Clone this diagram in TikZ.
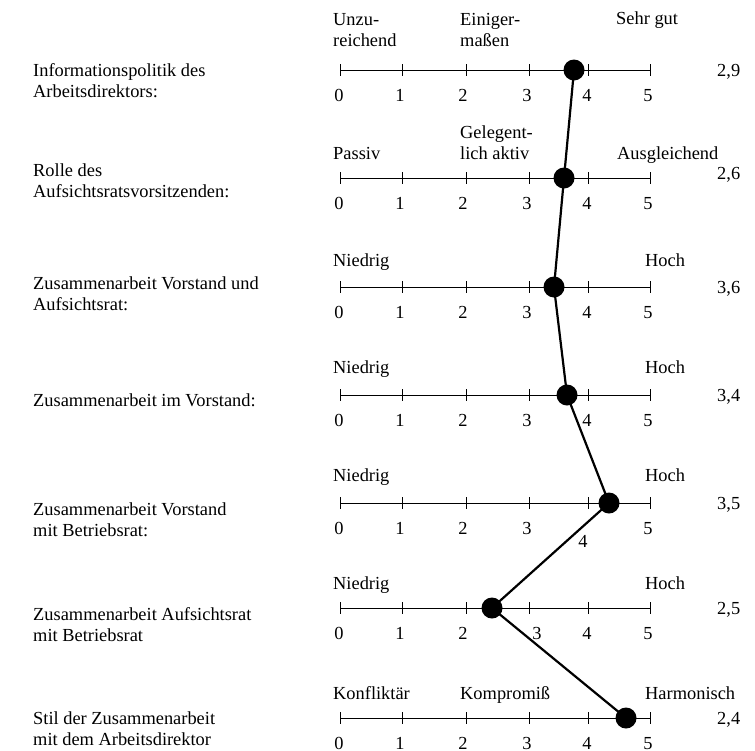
\documentclass[tikz,border=0pt]{standalone}
\usepackage{fontspec}
\setmainfont{Liberation Serif}
\begin{document}
\begin{tikzpicture}[x=1pt,y=-1pt,
  txt/.style={inner sep=0pt, font=\fontsize{18.4}{21}\selectfont},
  lbl/.style={txt, anchor=base west, align=left},
  num/.style={txt, anchor=base},
  axis/.style={line width=0.8pt},
  dot/.style={circle, fill=black, minimum size=21pt, inner sep=0pt},
  link/.style={line width=2.2pt, line join=round}]
\useasboundingbox (0,0) rectangle (755,750);

% rating scales: axis line, ticks and digits 0..5
\foreach \r/\y in {1/70,2/178,3/287,4/395,5/503,6/608,7/718}{
  \draw[axis] (340,\y) -- (650,\y);
  \foreach \tx in {340,402,466,529,588,650}
    \draw[axis] (\tx,\y-6) -- (\tx,\y+6);
  \foreach \dx [count=\k from 0] in {339,400,463,527,587,648}{
    \pgfmathsetmacro\sx{(\r==6 && \k==3) ? 10 : ((\r==5 && \k==4) ? -4 : 0)}
    \pgfmathsetmacro\sy{(\r==5 && \k==4) ? 13 : 0}
    \node[num] (dig-\r-\k) at (\dx+\sx,\y+31+\sy) {\k};
  }
}

% item labels (base anchor sits on the last line)
\node[lbl] (item1) at (33,97)  {Informationspolitik des\\Arbeitsdirektors:};
\node[lbl] (item2) at (33,197) {Rolle des\\Aufsichtsratsvorsitzenden:};
\node[lbl] (item3) at (33,310) {Zusammenarbeit Vorstand und\\Aufsichtsrat:};
\node[lbl] (item4) at (33,406) {Zusammenarbeit im Vorstand:};
\node[lbl] (item5) at (33,536) {Zusammenarbeit Vorstand\\mit Betriebsrat:};
\node[lbl] (item6) at (33,641) {Zusammenarbeit Aufsichtsrat\\mit Betriebsrat};
\node[lbl] (item7) at (33,745) {Stil der Zusammenarbeit\\mit dem Arbeitsdirektor};

% scale anchors
\node[lbl] (a1l) at (333,46)  {Unzu-\\reichend};
\node[lbl] (a1m) at (460,46)  {Einiger-\\maßen};
\node[lbl] (a1r) at (616,24)  {Sehr gut};
\node[lbl] (a2l) at (333,159) {Passiv};
\node[lbl] (a2m) at (460,159) {Gelegent-\\lich aktiv};
\node[lbl] (a2r) at (617,159) {Ausgleichend};
\foreach \r/\b in {3/266,4/373,5/481,6/589}{
  \node[lbl] (a\r l) at (333,\b) {Niedrig};
  \node[lbl] (a\r r) at (645,\b) {Hoch};
}
\node[lbl] (a7l) at (333,699) {Konfliktär};
\node[lbl] (a7m) at (460,699) {Kompromiß};
\node[lbl] (a7r) at (645,699) {Harmonisch};

% values at the right
\node[lbl] (v1) at (717,76)  {2,9};
\node[lbl] (v2) at (717,179) {2,6};
\node[lbl] (v3) at (717,293) {3,6};
\node[lbl] (v4) at (717,401) {3,4};
\node[lbl] (v5) at (717,509) {3,5};
\node[lbl] (v6) at (717,614) {2,5};
\node[lbl] (v7) at (717,724) {2,4};

% profile points
\coordinate (p1) at (574,70);
\coordinate (p2) at (564,178);
\coordinate (p3) at (554,287);
\coordinate (p4) at (567,395);
\coordinate (p5) at (609,503);
\coordinate (p6) at (492,608);
\coordinate (p7) at (626,718);
\draw[link] (p1) -- (p2) -- (p3) -- (p4) -- (p5) -- (p6) -- (p7);
\foreach \i in {1,...,7}
  \node[dot] (d\i) at (p\i) {};
\end{tikzpicture}
\end{document}
